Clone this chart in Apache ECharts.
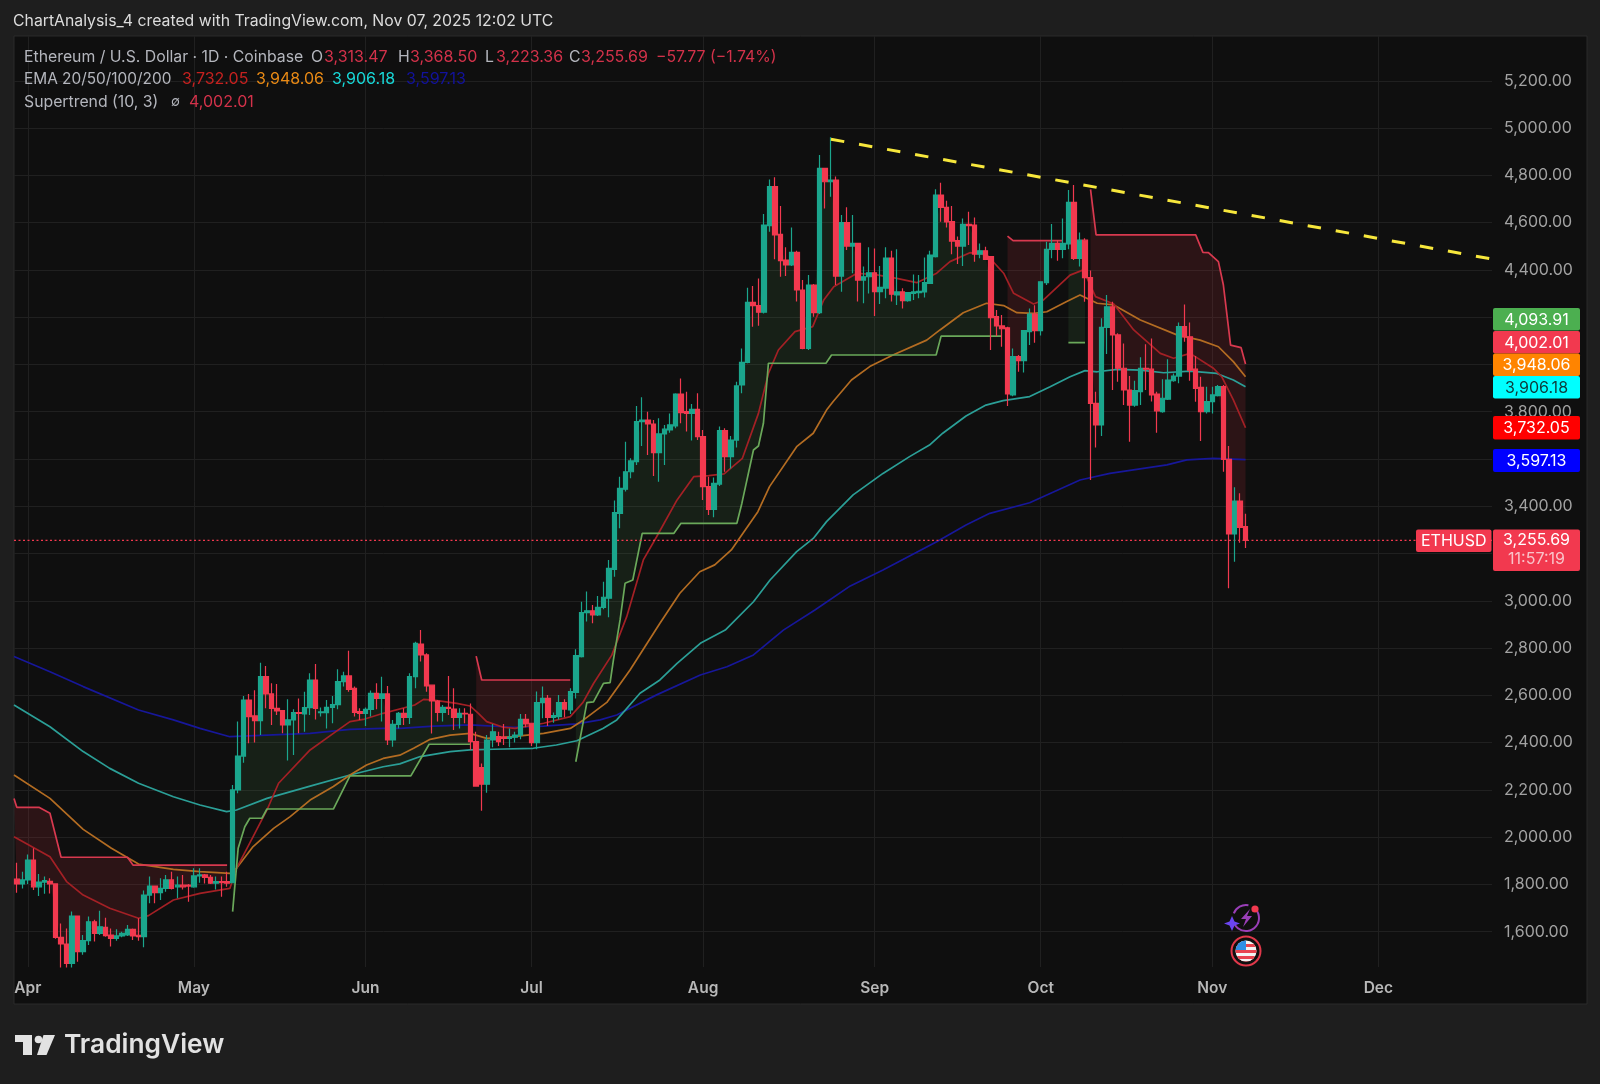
<!DOCTYPE html>
<html>
<head>
<meta charset="utf-8">
<title>ETHUSD</title>
<script src="https://cdn.jsdelivr.net/npm/echarts@6/dist/echarts.min.js"></script>
<style>
html, body { margin: 0; padding: 0; background: #1e1e1e; }
#chart { width: 1600px; height: 1084px; }
</style>
</head>
<body>
<div id="chart"></div>
<script>
// x axis is days counted from Mar 30, one candle per day
var monthDays = [2, 32, 63, 93, 124, 155, 185, 216, 246];
var monthNames = ['Apr', 'May', 'Jun', 'Jul', 'Aug', 'Sep', 'Oct', 'Nov', 'Dec'];
var priceTicks = [1600, 1800, 2000, 2200, 2400, 2600, 2800, 3000, 3200, 3400, 3600, 3800, 4000, 4200, 4400, 4600, 4800, 5000, 5200];

var opens = [
1822,1802,1819,1903,1790,1810,1813,1802,1576,1548,
1466,1666,1516,1562,1642,1593,1618,1586,1572,1582,
1586,1610,1585,1579,1755,1793,1765,1783,1819,1790,
1797,1797,1790,1836,1840,1830,1805,1812,1812,1807,
2200,2343,2580,2513,2493,2679,2606,2545,2535,2475,
2496,2527,2521,2548,2665,2527,2527,2549,2561,2658,
2682,2630,2531,2524,2541,2608,2587,2606,2411,2477,
2524,2507,2679,2817,2771,2643,2576,2528,2549,2542,
2507,2524,2520,2404,2294,2224,2411,2425,2423,2418,
2423,2432,2498,2482,2400,2569,2587,2507,2510,2569,
2538,2612,2764,2950,2958,2940,2972,3011,3133,3370,
3472,3546,3589,3758,3765,3748,3627,3706,3723,3740,
3875,3800,3793,3810,3695,3483,3387,3494,3720,3610,
3680,3913,4009,4263,4249,4221,4587,4752,4550,4442,
4421,4474,4315,4068,4336,4219,4830,4773,4780,4374,
4600,4501,4512,4357,4371,4388,4308,4323,4450,4294,
4307,4270,4301,4304,4307,4343,4456,4717,4665,4604,
4524,4501,4593,4590,4467,4481,4456,4202,4163,4155,
3871,4033,4016,4139,4213,4143,4346,4487,4512,4487,
4510,4686,4449,4526,4367,3835,3744,4157,4244,4125,
3984,3892,3828,3885,3984,3980,3875,3800,3853,3931,
3951,4160,4117,3980,3903,3800,3843,3868,3906,3598,
3283,3422,3313.47];
var closes = [
1802,1819,1903,1790,1810,1816,1802,1576,1548,1466,
1666,1516,1562,1642,1593,1621,1583,1572,1582,1593,
1610,1582,1579,1755,1793,1765,1783,1819,1783,1797,
1790,1793,1836,1840,1830,1805,1812,1808,1805,2200,
2343,2580,2510,2493,2679,2606,2545,2534,2475,2496,
2527,2524,2548,2665,2545,2530,2549,2561,2658,2682,
2625,2528,2524,2541,2608,2587,2606,2411,2477,2524,
2507,2679,2820,2771,2640,2576,2528,2549,2545,2507,
2524,2521,2404,2216,2224,2411,2446,2404,2418,2423,
2432,2498,2479,2400,2569,2587,2507,2514,2569,2542,
2616,2768,2950,2958,2940,2972,3015,3137,3373,3476,
3546,3592,3758,3765,3748,3627,3706,3726,3744,3875,
3796,3793,3810,3695,3483,3387,3497,3720,3610,3680,
3909,4009,4263,4249,4221,4590,4752,4548,4439,4421,
4474,4315,4068,4336,4219,4830,4773,4780,4374,4600,
4501,4512,4357,4371,4388,4308,4326,4450,4297,4307,
4270,4304,4307,4309,4346,4463,4717,4665,4603,4522,
4501,4593,4587,4467,4481,4445,4198,4163,4151,3875,
4033,4016,4143,4213,4143,4350,4487,4512,4487,4512,
4686,4449,4526,4367,3835,3744,4157,4244,4125,3984,
3892,3828,3889,3984,3980,3871,3804,3857,3934,3951,
4160,4117,3976,3899,3800,3843,3871,3906,3598,3283,
3422,3311,3255.69];
var highs = [
1892,1854,1927,1953,1844,1833,1826,1805,1635,1614,
1685,1668,1586,1664,1650,1689,1659,1614,1610,1600,
1628,1614,1657,1774,1833,1793,1826,1840,1854,1833,
1840,1802,1868,1868,1844,1840,1833,1833,1854,2221,
2489,2597,2606,2622,2738,2724,2651,2648,2538,2583,
2541,2587,2615,2693,2733,2549,2580,2597,2710,2700,
2789,2637,2545,2549,2620,2651,2679,2640,2496,2530,
2545,2693,2827,2876,2778,2644,2580,2559,2682,2630,
2545,2545,2566,2446,2312,2432,2479,2446,2479,2460,
2446,2521,2521,2484,2616,2637,2601,2527,2601,2583,
2630,2795,2996,3039,2982,3020,3081,3173,3424,3525,
3673,3603,3824,3861,3800,3765,3772,3744,3793,3878,
3941,3885,3833,3878,3723,3525,3522,3737,3730,3697,
3927,4068,4325,4332,4364,4637,4783,4792,4670,4496,
4579,4481,4357,4379,4340,4886,4830,4961,4795,4632,
4665,4632,4515,4414,4496,4491,4417,4496,4481,4487,
4322,4307,4381,4378,4453,4481,4741,4769,4693,4670,
4541,4618,4646,4622,4512,4498,4459,4230,4209,4160,
4068,4040,4143,4237,4251,4350,4519,4594,4526,4618,
4738,4759,4558,4534,4397,3885,4195,4294,4265,4132,
4089,3951,3931,4030,4086,4110,3885,3937,4022,3962,
4177,4254,4177,4036,3948,3906,3906,3913,3913,3655,
3480,3455,3368.5];
var lows = [
1765,1783,1802,1776,1751,1760,1762,1570,1449,1449,
1449,1473,1502,1544,1558,1586,1579,1537,1562,1576,
1582,1565,1562,1534,1720,1720,1734,1769,1779,1741,
1779,1727,1786,1807,1804,1802,1779,1748,1790,1805,
2186,2315,2397,2400,2432,2545,2475,2517,2440,2324,
2348,2440,2446,2517,2498,2510,2460,2482,2541,2637,
2615,2510,2496,2470,2510,2541,2489,2390,2383,2460,
2475,2479,2630,2743,2615,2439,2489,2489,2517,2453,
2460,2482,2369,2214,2112,2188,2380,2386,2390,2380,
2400,2414,2465,2386,2372,2503,2470,2484,2498,2507,
2521,2587,2760,2912,2905,2936,2964,2930,3102,3307,
3462,3518,3575,3655,3617,3528,3504,3575,3711,3730,
3751,3716,3678,3680,3427,3363,3353,3486,3546,3560,
3649,3878,4005,4160,4164,4216,4562,4445,4371,4374,
4417,4266,4064,4061,4202,4213,4660,4710,4336,4308,
4484,4386,4266,4259,4300,4205,4256,4280,4266,4252,
4237,4265,4273,4280,4283,4340,4453,4604,4579,4466,
4425,4417,4505,4435,4449,4442,4061,4120,4075,3824,
3865,3969,3966,4082,4092,4122,4336,4449,4439,4449,
4487,4442,4414,4265,3511,3649,3697,4044,3892,3927,
3828,3673,3821,3828,3892,3843,3711,3796,3850,3927,
3920,4096,3931,3842,3676,3793,3793,3864,3546,3053,
3165,3246,3223.36];

// moving averages as [day, price]
var ema20 = [[-0.5,2002],[6,1917],[9,1812],[12,1755],[16.8,1699],[22,1657],[23.8,1668],[28.3,1734],[33.1,1762],[38.5,1783],[39.7,1868],[42.7,2002],[45.2,2115],[47.3,2228],[53,2369],[57.2,2439],[60.2,2489],[62.6,2498],[66.2,2524],[71.9,2559],[73.5,2583],[75.3,2580],[79.5,2566],[81.9,2555],[83.4,2524],[84.9,2489],[87.9,2465],[90,2460],[95.2,2482],[100,2510],[102.3,2570],[104.2,2650],[107.5,2770],[110.2,2933],[113.2,3173],[115.6,3271],[119.3,3427],[122.3,3525],[125,3530],[127.8,3537],[131.1,3603],[134,3793],[135.8,3962],[137.6,4061],[140.6,4139],[143.8,4160],[145.8,4273],[147.6,4329],[151.8,4386],[155.4,4379],[159,4364],[162.6,4346],[166.2,4386],[168.6,4435],[172.2,4473],[175.3,4463],[178.3,4386],[180.1,4301],[183.7,4256],[185.5,4273],[190.3,4378],[192.7,4400],[194.9,4287],[198.2,4256],[201.8,4146],[206.6,4047],[209,4026],[212,4047],[216.2,3984],[217.7,3948],[219.8,3850],[222,3732.05]];
var ema50 = [[-0.5,2263],[6,2164],[12,2033],[17.1,1953],[22,1886],[28.3,1864],[33.1,1854],[38.5,1847],[39.7,1868],[42.7,1960],[46.4,2037],[49.4,2087],[53,2157],[57.2,2214],[60.2,2263],[63.2,2305],[66.2,2333],[69.2,2347],[71.7,2376],[74.7,2414],[78.3,2432],[81.9,2439],[84.9,2418],[89.7,2425],[95.2,2439],[100,2460],[102.4,2496],[106.6,2570],[110.8,2707],[116.2,2905],[119.8,3032],[123.4,3123],[126.1,3152],[129.1,3215],[133.9,3377],[136,3483],[140.9,3652],[143.9,3709],[146.3,3807],[147.5,3843],[150.8,3934],[154.1,3991],[158.3,4040],[164.4,4103],[166.8,4146],[171,4219],[175.2,4259],[178.3,4249],[180.7,4219],[183.7,4216],[186.1,4223],[189.7,4266],[192.1,4294],[195.2,4259],[198.2,4252],[203,4188],[209.6,4125],[213.8,4103],[217.1,4075],[219.8,4012],[222,3948.06]];
var ema100 = [[-0.5,2559],[6,2467],[12,2362],[16.8,2291],[22,2228],[28.3,2171],[33.1,2136],[37.9,2108],[39.7,2115],[45.2,2164],[53,2216],[60.2,2263],[66.2,2298],[69.2,2310],[72.9,2341],[78.3,2362],[81.9,2369],[86.1,2372],[93.3,2376],[97.5,2390],[101.2,2408],[105.9,2460],[108.4,2496],[112.6,2609],[116.2,2665],[119.3,2735],[123.5,2820],[128,2876],[133.1,2996],[136.1,3088],[140.9,3208],[143.9,3264],[146.3,3335],[151.1,3448],[156.5,3539],[161.3,3610],[164.9,3659],[167.3,3709],[171.5,3782],[175.1,3828],[178.2,3847],[183,3864],[186.7,3906],[190.3,3948],[193,3974],[195.2,3969],[198.8,3979],[203,3976],[207.2,3965],[212,3972],[216.8,3962],[219.8,3934],[222,3906.18]];
var ema200 = [[-0.5,2764],[6,2700],[12,2637],[22,2538],[28.3,2496],[33.1,2460],[38.5,2425],[45.2,2432],[53,2439],[60.2,2456],[66.2,2460],[69.3,2460],[75.3,2470],[81.9,2475],[89.7,2465],[95.2,2470],[101.2,2479],[105.4,2496],[108.4,2517],[115.6,2602],[123.5,2686],[128.3,2721],[133.1,2771],[138.5,2876],[144.2,2961],[150.6,3063],[156.5,3130],[162.5,3204],[166.2,3250],[171.5,3321],[175.8,3370],[183,3415],[192.1,3511],[197.5,3539],[207.8,3575],[211.4,3596],[216.2,3603],[222,3597.13]];

// supertrend pieces, one list per flip
var stDown1 = [[-0.5,2164],[0,2126],[4,2126],[6,2101],[8,1915],[20,1915],[21,1882],[38,1882]];
var stUp1 = [[39,1685],[40,1953],[41.2,2044],[42.1,2080],[44.3,2080],[45.2,2119],[57.2,2119],[60.2,2259],[71.2,2259],[74.5,2393],[82,2393]];
var stDown2 = [[83,2766],[84,2665],[100,2665]];
var stUp2 = [[101,2319],[103,2569],[104.2,2572],[106,2651],[107.2,2654],[107.8,2750],[109,2919],[109.9,3074],[111.3,3088],[113,3285],[118.7,3285],[120,3328],[130.1,3328],[131,3412],[133.1,3638],[134,3655],[134.9,3751],[135.8,4005],[146.2,4005],[147.2,4040],[166.1,4040],[167,4120],[178,4120]];
var stDown3 = [[179,4543],[180,4524],[189,4524]];
var stUp3 = [[190,4092],[193,4092]];
var stDown4 = [[194,4741],[195,4548],[213,4548],[214.3,4474],[215.3,4473],[217.1,4435],[218,4336],[219.3,4082],[221.2,4071],[222,4002.01]];

var trendLine = [[147.1,4953],[266.5,4446]];
var lastPriceLine = [[-0.5,3255.69],[266.53,3255.69]];

var GREEN = '#1ba68d', RED = '#f2394f';
var stUpColor = '#6aa85a', stDownColor = '#d8394f';
var FONT = 'Inter';

var candleData = opens.map(function (o, i) {
    return [i, o, closes[i], lows[i], highs[i]];
});

function lineSeries(data, color, width) {
    return {
        type: 'line', data: data, showSymbol: false, symbol: 'none', z: 2,
        lineStyle: { color: color, width: width || 1.7 }, silent: true
    };
}

// area between a supertrend piece and the candle bodies' middle
var bands = [
    { line: stDown1, from: 0, to: 38, color: 'rgba(242,54,69,0.13)' },
    { line: stUp1, from: 39, to: 82, color: 'rgba(100,190,100,0.10)' },
    { line: stDown2, from: 83, to: 100, color: 'rgba(242,54,69,0.13)' },
    { line: stUp2, from: 101, to: 178, color: 'rgba(100,190,100,0.10)' },
    { line: stDown3, from: 179, to: 189, color: 'rgba(242,54,69,0.13)' },
    { line: stUp3, from: 190, to: 193, color: 'rgba(100,190,100,0.10)' },
    { line: stDown4, from: 194, to: 222, color: 'rgba(242,54,69,0.13)' }
];

function renderBand(params, api) {
    var band = bands[api.value(0)];
    var pts = band.line.map(function (p) { return api.coord(p); });
    for (var i = band.to; i >= band.from; i--) {
        pts.push(api.coord([i, (opens[i] + closes[i]) / 2]));
    }
    return { type: 'polygon', shape: { points: pts }, style: { fill: band.color }, silent: true };
}

function txt(x, y, text, color, size, weight, align) {
    return {
        type: 'text', x: x, y: y, z: 20, silent: true,
        style: {
            text: text, fill: color, font: (weight || 400) + ' ' + (size || 15.8) + 'px ' + FONT,
            align: align || 'left', verticalAlign: 'middle'
        }
    };
}

function tag(x, y, w, h, color, text, textColor) {
    return [
        { type: 'rect', z: 18, silent: true, shape: { x: x, y: y, width: w, height: h, r: 2 }, style: { fill: color } },
        txt(x + w / 2, y + h / 2 + 0.5, text, textColor || '#fff', 16, 400, 'center')
    ];
}

var GREY = '#b4b6bd', LEG_RED = '#d3324a';
var flagSvg = '<svg xmlns="http://www.w3.org/2000/svg" width="64" height="64" viewBox="0 0 32 32"><defs><clipPath id="c"><circle cx="16" cy="16" r="10.5"/></clipPath></defs><circle cx="16" cy="16" r="14.5" fill="none" stroke="#e0384a" stroke-width="2"/><circle cx="16" cy="16" r="12" fill="#111"/><g clip-path="url(#c)"><rect width="32" height="32" fill="#f4f4f4"/><rect y="9" width="32" height="3" fill="#e8434f"/><rect y="15" width="32" height="3" fill="#e8434f"/><rect y="21" width="32" height="7" fill="#e8434f"/><rect y="24" width="32" height="2" fill="#f4f4f4"/><rect x="4" y="4" width="12" height="11" fill="#2f8fe6"/></g></svg>';

var graphics = [
    { type: 'rect', z: -1, silent: true, shape: { x: 14, y: 36, width: 1573, height: 968 }, style: { fill: '#0f0f0f', stroke: '#2b2b2b', lineWidth: 1 } },
    txt(13, 21.5, 'ChartAnalysis_4 created with TradingView.com, Nov 07, 2025 12:02 UTC', '#dcdcdc'),

    txt(24, 57.5, 'Ethereum / U.S. Dollar · 1D · Coinbase', GREY),
    txt(311, 57.5, 'O', GREY), txt(324, 57.5, '3,313.47', LEG_RED, 16),
    txt(398, 57.5, 'H', GREY), txt(410, 57.5, '3,368.50', LEG_RED, 16),
    txt(485, 57.5, 'L', GREY), txt(496, 57.5, '3,223.36', LEG_RED, 16),
    txt(569, 57.5, 'C', GREY), txt(581, 57.5, '3,255.69', LEG_RED, 16),
    txt(656, 57.5, '−57.77 (−1.74%)', LEG_RED),

    txt(24, 79.5, 'EMA 20/50/100/200', GREY, 15.4),
    txt(182, 79.5, '3,732.05', '#c5211f', 16),
    txt(256, 79.5, '3,948.06', '#e98a15', 16),
    txt(332, 79.5, '3,906.18', '#18d8d8', 16),
    txt(406, 79.5, '3,597.13', '#12129c', 16),

    txt(24, 102, 'Supertrend (10, 3)', GREY),
    txt(171, 102, '∅', GREY, 13),
    txt(189, 102, '4,002.01', LEG_RED, 16),

    txt(64, 1045.5, 'TradingView', '#e2e2e2', 26.3, 600),
    // TradingView mark
    { type: 'polygon', z: 20, silent: true, shape: { points: [[15, 1035], [32, 1035], [32, 1055], [23, 1055], [23, 1042], [15, 1042]] }, style: { fill: '#e2e2e2' } },
    { type: 'circle', z: 20, silent: true, shape: { cx: 38.5, cy: 1039.5, r: 3.8 }, style: { fill: '#e2e2e2' } },
    { type: 'polygon', z: 20, silent: true, shape: { points: [[43.5, 1035], [55, 1035], [46.5, 1055], [37, 1055]] }, style: { fill: '#e2e2e2' } },

    // event icons
    { type: 'arc', z: 20, silent: true, shape: { cx: 1246, cy: 918, r: 13, startAngle: -0.9, endAngle: 2.6, clockwise: true }, style: { stroke: '#9a3fb8', lineWidth: 2, fill: null } },
    { type: 'arc', z: 20, silent: true, shape: { cx: 1246, cy: 918, r: 13, startAngle: 3.5, endAngle: 4.9, clockwise: true }, style: { stroke: '#9a3fb8', lineWidth: 2, fill: null } },
    { type: 'polygon', z: 20, silent: true, shape: { points: [[1250, 909], [1241, 919], [1246, 919], [1243, 927], [1252, 916], [1247, 916]] }, style: { fill: '#9a3fb8' } },
    { type: 'polygon', z: 21, silent: true, shape: { points: [[1232, 916], [1234.5, 921.5], [1240, 923.5], [1234.5, 925.5], [1232, 931], [1229.5, 925.5], [1224, 923.5], [1229.5, 921.5]] }, style: { fill: '#6b45f0' } },
    { type: 'circle', z: 21, silent: true, shape: { cx: 1255, cy: 909, r: 3.6 }, style: { fill: '#f2394f' } },
    { type: 'image', z: 20, silent: true, style: { image: 'data:image/svg+xml;utf8,' + encodeURIComponent(flagSvg), x: 1230, y: 935, width: 32, height: 32 } }
];

graphics = graphics.concat(
    tag(1493, 308, 87, 22.5, '#4caf50', '4,093.91'),
    tag(1493, 331, 87, 22.5, '#f2394f', '4,002.01'),
    tag(1493, 353.5, 87, 22.5, '#ff8400', '3,948.06'),
    tag(1493, 376, 87, 22.5, '#00ffff', '3,906.18', '#0e3a3a'),
    tag(1493, 416, 87, 23.5, '#ff0000', '3,732.05'),
    tag(1493, 449, 87, 23, '#0000ff', '3,597.13'),
    tag(1416, 529.5, 75.5, 22.5, '#f2394f', 'ETHUSD'),
    [{ type: 'rect', z: 18, silent: true, shape: { x: 1493, y: 529.5, width: 87, height: 41.5, r: 2 }, style: { fill: '#f2394f' } },
     txt(1536.5, 540.5, '3,255.69', '#fff', 16, 400, 'center'),
     txt(1536.5, 559, '11:57:19', '#f9c3c9', 16, 400, 'center')]
);

var chart = echarts.init(document.getElementById('chart'), null, { renderer: 'canvas' });

var priceLineSeries = lineSeries(lastPriceLine, RED, 1.3);
priceLineSeries.lineStyle.type = [2, 2.5];

var option = {
    animation: false,
    backgroundColor: '#1e1e1e',
    grid: { left: 14, top: 36, width: 1478, height: 931, containLabel: false },
    xAxis: {
        type: 'value', min: -0.5, max: 266.53,
        axisLine: { show: false },
        axisTick: { show: false, customValues: monthDays },
        splitLine: { show: true, lineStyle: { color: '#202020', width: 1 } },
        axisLabel: {
            customValues: monthDays, margin: 13,
            color: '#b8b8b8', fontFamily: FONT, fontSize: 15.5, fontWeight: 600,
            formatter: function (v) { return monthNames[monthDays.indexOf(v)] || ''; }
        }
    },
    yAxis: {
        type: 'value', position: 'right', min: 1450.6, max: 5389.7,
        axisLine: { show: false },
        axisTick: { show: false, customValues: priceTicks },
        splitLine: { show: true, lineStyle: { color: '#202020', width: 1 } },
        axisLabel: {
            customValues: priceTicks, margin: 12, align: 'left',
            color: '#a2a2a2', fontFamily: FONT, fontSize: 16,
            formatter: function (v) { return v.toLocaleString('en-US', { minimumFractionDigits: 2 }); }
        }
    },
    graphic: graphics,
    series: [
        {
            type: 'custom', z: 1, silent: true, renderItem: renderBand,
            data: bands.map(function (b, i) { return [i]; }),
            encode: { x: 0 }
        },
        lineSeries(ema200, '#17179a'),
        lineSeries(ema100, '#2b9f97'),
        lineSeries(ema50, '#b36c22'),
        lineSeries(ema20, '#a32025'),
        lineSeries(stDown1, stDownColor), lineSeries(stUp1, stUpColor),
        lineSeries(stDown2, stDownColor), lineSeries(stUp2, stUpColor),
        lineSeries(stDown3, stDownColor), lineSeries(stUp3, stUpColor),
        lineSeries(stDown4, stDownColor),
        priceLineSeries,
        {
            type: 'candlestick', z: 3, silent: true, barWidth: 5,
            data: candleData,
            encode: { x: 0, y: [1, 2, 3, 4] },
            itemStyle: { color: GREEN, color0: RED, borderColor: GREEN, borderColor0: RED, borderWidth: 1.2 }
        },
        {
            type: 'line', data: trendLine, showSymbol: false, symbol: 'none', z: 4, silent: true, clip: false,
            lineStyle: { color: '#f7e73c', width: 3, type: [13.5, 15] }
        }
    ]
};

chart.setOption(option);
</script>
</body>
</html>
